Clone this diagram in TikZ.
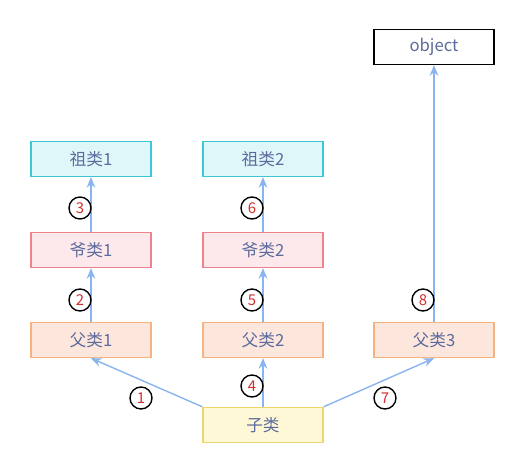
\documentclass[tikz,border=0pt]{standalone}
\usepackage{fontspec}
\usepackage{tikz}
\usetikzlibrary{arrows.meta}
\newfontfamily\cjk{Noto Sans CJK SC}
\definecolor{txtblue}{HTML}{5C6B9E}
\definecolor{arrowblue}{HTML}{8AB4F0}
\definecolor{numred}{HTML}{D32F2F}
\definecolor{zufill}{HTML}{E0F7FA}
\definecolor{zuline}{HTML}{3CC8D4}
\definecolor{yefill}{HTML}{FDE8EC}
\definecolor{yeline}{HTML}{F0828C}
\definecolor{fufill}{HTML}{FDE6DC}
\definecolor{fuline}{HTML}{F5B383}
\definecolor{zifill}{HTML}{FFF8D6}
\definecolor{ziline}{HTML}{F0D56A}

\begin{document}
\begin{tikzpicture}[x=0.02cm,y=-0.02cm,
  cls/.style={draw, line width=0.8pt, minimum width=2.4cm, minimum height=0.7cm,
    inner sep=0pt, text=txtblue, font=\cjk\fontsize{9.5}{11}\selectfont},
  num/.style={draw, circle, line width=0.8pt, minimum size=0.44cm, inner sep=0pt,
    text=numred, font=\cjk\fontsize{8.5}{9}\selectfont},
  inherit/.style={-{Stealth[length=6pt,width=5pt]}, arrowblue, line width=0.8pt}]
\useasboundingbox (0,0) rectangle (525,476);
% draw class boxes
\node[cls, fill=white] (obj) at (434,47) {object};
\node[cls, draw=zuline, fill=zufill] (zu1) at (91,159) {祖类1};
\node[cls, draw=zuline, fill=zufill] (zu2) at (263,159) {祖类2};
\node[cls, draw=yeline, fill=yefill] (ye1) at (91,250) {爷类1};
\node[cls, draw=yeline, fill=yefill] (ye2) at (263,250) {爷类2};
\node[cls, draw=fuline, fill=fufill] (fu1) at (91,340) {父类1};
\node[cls, draw=fuline, fill=fufill] (fu2) at (263,340) {父类2};
\node[cls, draw=fuline, fill=fufill] (fu3) at (434,340) {父类3};
\node[cls, draw=ziline, fill=zifill] (zi) at (263,425) {子类};
% draw inheritance arrows
\draw[inherit] (zi.north west) -- (fu1.south);
\draw[inherit] (zi.north) -- (fu2.south);
\draw[inherit] (zi.north east) -- (fu3.south);
\draw[inherit] (fu1) -- (ye1);
\draw[inherit] (ye1) -- (zu1);
\draw[inherit] (fu2) -- (ye2);
\draw[inherit] (ye2) -- (zu2);
\draw[inherit] (fu3) -- (obj);
% draw search order
\node[num] (n1) at (141,398) {1};
\node[num] (n2) at (80,300) {2};
\node[num] (n3) at (80,208) {3};
\node[num] (n4) at (252,386) {4};
\node[num] (n5) at (252,300) {5};
\node[num] (n6) at (252,208) {6};
\node[num] (n7) at (385,398) {7};
\node[num] (n8) at (423,300) {8};
\end{tikzpicture}
\end{document}
